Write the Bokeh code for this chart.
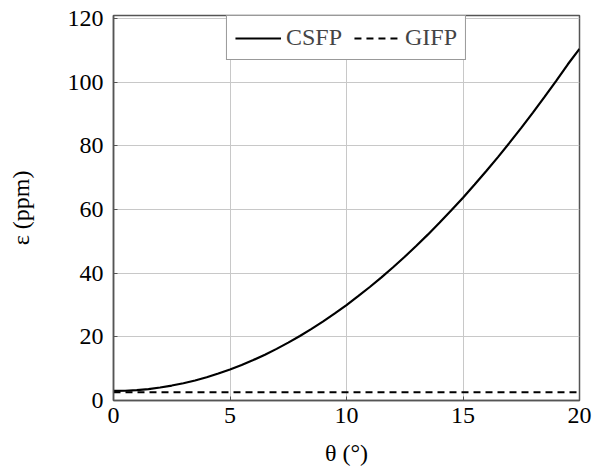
from bokeh.plotting import figure
from bokeh.models import Range1d, FixedTicker, Legend, LegendItem
from bokeh.embed import file_html
from bokeh.resources import INLINE

theta = [0, 0.5, 1, 1.5, 2, 2.5, 3, 3.5, 4, 4.5, 5, 5.5, 6, 6.5, 7, 7.5, 8, 8.5, 9, 9.5,
         10, 10.5, 11, 11.5, 12, 12.5, 13, 13.5, 14, 14.5, 15, 15.5, 16, 16.5, 17, 17.5,
         18, 18.5, 19, 19.5, 20]
csfp = [3.0, 3.07, 3.27, 3.6, 4.08, 4.7, 5.43, 6.3, 7.32, 8.47, 9.75, 11.17, 12.72,
        14.4, 16.23, 18.19, 20.28, 22.5, 24.87, 27.37, 30.0, 32.77, 35.67, 38.71,
        41.88, 45.19, 48.63, 52.2, 55.92, 59.77, 63.75, 67.87, 72.12, 76.5, 81.03,
        85.69, 90.48, 95.4, 100.47, 105.67, 110.5]
gifp_theta = [0, 20]
gifp = [2.6, 2.6]
x_ticks = [0, 5, 10, 15, 20]
y_ticks = [0, 20, 40, 60, 80, 100, 120]
x_title = "θ (°)"
y_title = "ε (ppm)"

FONT = "Liberation Serif"
FS = "24px"

p = figure(width=600, height=470, output_backend="svg", toolbar_location=None,
           x_range=Range1d(0, 20), y_range=Range1d(0, 121),
           min_border_left=113, min_border_right=21, min_border_top=15,
           min_border_bottom=70)

r1 = p.line(theta, csfp, line_color="black", line_width=2.2)
r2 = p.line(gifp_theta, gifp, line_color="black", line_width=2.2, line_dash="7 5")

for ax in (p.xaxis[0], p.yaxis[0]):
    ax.major_label_text_font = FONT
    ax.major_label_text_font_size = FS
    ax.major_label_text_color = "black"
    ax.axis_label_text_font = FONT
    ax.axis_label_text_font_size = FS
    ax.axis_label_text_font_style = "normal"
    ax.axis_label_text_color = "black"
    ax.axis_line_color = "#555555"
    ax.axis_line_width = 1.5
    ax.major_tick_in = 4
    ax.major_tick_out = 0
    ax.major_tick_line_color = "#555555"
    ax.minor_tick_line_color = None

p.xaxis[0].ticker = FixedTicker(ticks=x_ticks)
p.yaxis[0].ticker = FixedTicker(ticks=y_ticks)
p.xaxis[0].axis_label = x_title
p.yaxis[0].axis_label = y_title
p.xaxis[0].major_label_standoff = 7
p.yaxis[0].major_label_standoff = 10
p.xaxis[0].axis_label_standoff = 14
p.yaxis[0].axis_label_standoff = 31

p.xgrid.grid_line_color = "#c8c8c8"
p.ygrid.grid_line_color = "#c8c8c8"
p.xgrid.ticker = FixedTicker(ticks=x_ticks)
p.ygrid.ticker = FixedTicker(ticks=y_ticks)

p.outline_line_color = "#555555"
p.outline_line_width = 1.5

legend = Legend(items=[LegendItem(label="CSFP", renderers=[r1]),
                       LegendItem(label="GIFP", renderers=[r2])],
                location="top_center", orientation="horizontal",
                label_text_font=FONT, label_text_font_size=FS,
                glyph_width=46, glyph_height=20, label_standoff=5,
                spacing=12, padding=8, margin=0,
                border_line_color="#333333", border_line_width=1.2,
                background_fill_alpha=1.0)
p.add_layout(legend)

open("out.html", "w").write(file_html(p, INLINE))
